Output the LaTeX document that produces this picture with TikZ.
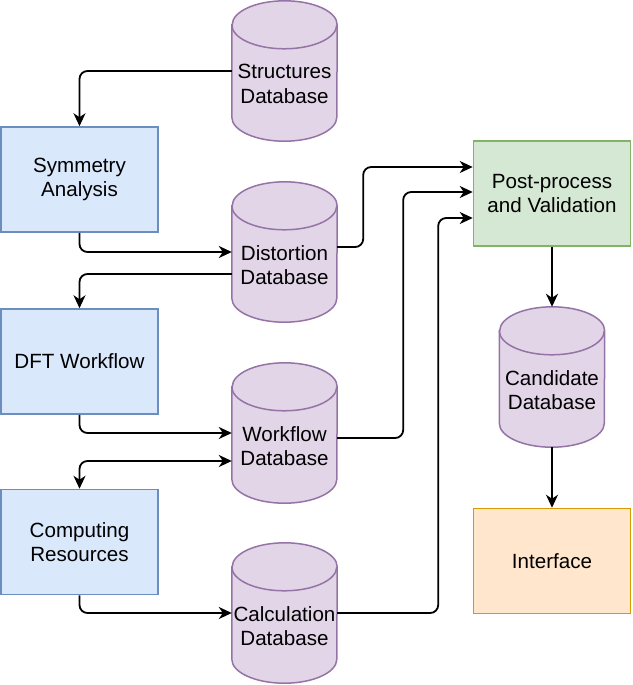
\documentclass[tikz,border=0pt]{standalone}
\usepackage{fontspec}
\setmainfont{Liberation Sans}
\usetikzlibrary{arrows.meta,calc}
\definecolor{bfill}{HTML}{DAE8FC}\definecolor{bdraw}{HTML}{6C8EBF}
\definecolor{pfill}{HTML}{E1D5E7}\definecolor{pdraw}{HTML}{9673A6}
\definecolor{gfill}{HTML}{D5E8D4}\definecolor{gdraw}{HTML}{82B366}
\definecolor{ofill}{HTML}{FFE6CC}\definecolor{odraw}{HTML}{D79B00}
\tikzset{
  box/.style={draw, line width=1.5pt, minimum width=157pt, minimum height=105pt, align=center, inner sep=0pt, font=\fontsize{20.6}{24.5}\selectfont},
  bluebox/.style={box, fill=bfill, draw=bdraw},
  greenbox/.style={box, fill=gfill, draw=gdraw},
  orangebox/.style={box, fill=ofill, draw=odraw},
  cylbody/.style={draw=none, minimum width=105pt, minimum height=140pt, inner sep=0pt},
  cyllabel/.style={align=center, inner sep=0pt, font=\fontsize{20.6}{24.5}\selectfont},
  cylshape/.style={fill=pfill, draw=pdraw, line width=1.5pt},
  tip/.style={Stealth[length=13pt,width=12pt,inset=4pt]},
  conn/.style={draw, line width=1.8pt, rounded corners=8pt, -{Stealth[length=13pt,width=12pt,inset=4pt]}},
}
\newcommand{\mycyl}[4]{%
  \node[cylbody] (#1) at (#2,#3) {};
  \path[cylshape] ($(#1.north west)+(0,-24)$) -- ($(#1.south west)+(0,24)$)
     arc[start angle=180,end angle=360,x radius=52.5pt,y radius=24pt]
     -- ($(#1.north east)+(0,-24)$)
     arc[start angle=0,end angle=180,x radius=52.5pt,y radius=24pt] -- cycle;
  \draw[pdraw, line width=1.5pt] ($(#1.north west)+(0,-24)$)
     arc[start angle=180,end angle=360,x radius=52.5pt,y radius=24pt];
  \node[cyllabel] (#1-t) at ($(#1.center)+(0,-13)$) {#4};
}
\begin{document}
\begin{tikzpicture}[x=1pt,y=1pt]
\useasboundingbox (0,0) rectangle (632,-685);
% cylinders
\mycyl{sdb}{284.5}{-71}{Structures\\Database}
\mycyl{ddb}{284.5}{-252}{Distortion\\Database}
\mycyl{wdb}{284.5}{-433}{Workflow\\Database}
\mycyl{cdb}{284.5}{-613}{Calculation\\Database}
\mycyl{cand}{552}{-377}{Candidate\\Database}
% boxes
\node[bluebox] (sym) at (79.5,-179.5) {Symmetry\\Analysis};
\node[bluebox] (dft) at (79.5,-361.5) {DFT Workflow};
\node[bluebox] (cr) at (79.5,-542) {Computing\\Resources};
\node[greenbox] (post) at (552,-193.5) {Post-process\\and Validation};
\node[orangebox] (iface) at (552,-561) {Interface};
% connectors
\draw[conn] (sdb.west) -| (sym.north);
\draw[conn] (sym.south) |- (ddb.west);
\draw[conn] ([yshift=-22pt]ddb.west) -| (dft.north);
\draw[conn] (dft.south) |- (wdb.west);
\draw[conn, {Stealth[length=13pt,width=12pt,inset=4pt]}-{Stealth[length=13pt,width=12pt,inset=4pt]}] (cr.north) |- ([yshift=-28pt]wdb.west);
\draw[conn] (cr.south) |- (cdb.west);
\draw[conn] ([yshift=5pt]ddb.east) -- ++(26,0) |- ([yshift=26.5pt]post.west);
\draw[conn] ([yshift=-5pt]wdb.east) -- ++(66,0) |- ([yshift=1.5pt]post.west);
\draw[conn] (cdb.east) -- ++(101,0) |- ([yshift=-24.5pt]post.west);
\draw[conn] (post.south) -- (cand.north);
\draw[conn] (cand.south) -- (iface.north);
\end{tikzpicture}
\end{document}
